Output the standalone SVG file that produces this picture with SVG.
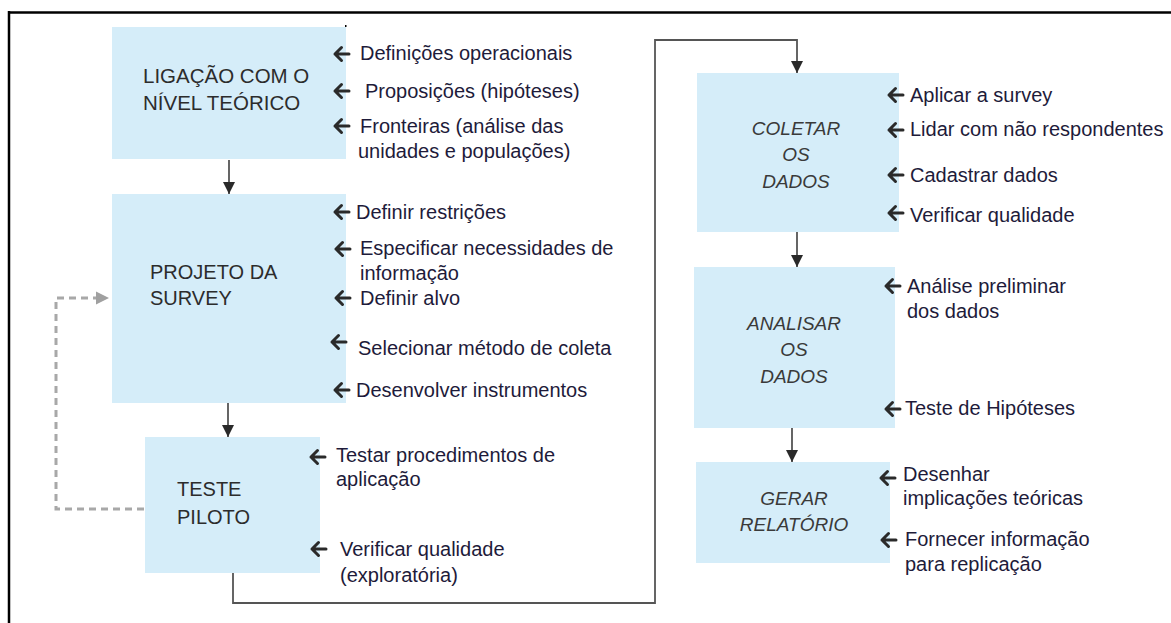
<svg xmlns="http://www.w3.org/2000/svg" xmlns:xlink="http://www.w3.org/1999/xlink" width="1171" height="623" viewBox="0 0 1171 623">
<style>
.box{fill:#D5EDF9}
.t{font-family:"Liberation Sans",Arial,sans-serif;font-size:20px;fill:#2c2c2c}
.it{font-family:"Liberation Sans",Arial,sans-serif;font-size:19px;font-style:italic;fill:#3a3a3a;text-anchor:middle}
.lb{font-family:"Liberation Sans",Arial,sans-serif;font-size:20px;fill:#1e1b3a}
.la{fill:none;stroke:#2a2a2a;stroke-width:3;stroke-linecap:round;stroke-linejoin:round}
.con{fill:none;stroke:#555;stroke-width:1.8}
.dash{fill:none;stroke:#a8a8a8;stroke-width:3;stroke-dasharray:7 5}
</style>
<defs>
<marker id="ah" markerUnits="userSpaceOnUse" markerWidth="12" markerHeight="12" viewBox="0 0 10 10" refX="10" refY="5" orient="auto">
<path d="M0,0 L10,5 L0,10 z" fill="#2a2a2a"/>
</marker>
<path id="la" class="la" d="M16,0 H2 M8.5,-6.5 L2,0 L8.5,6.5"/>
</defs>
<rect width="1171" height="623" fill="#fff"/>
<g id="frame">
<line x1="8" y1="12.5" x2="1171" y2="12.5" stroke="#000" stroke-width="2.5"/>
<line x1="9" y1="11" x2="9" y2="623" stroke="#000" stroke-width="2.5"/>
</g>
<g id="connectors">
<line class="con" x1="229" y1="160" x2="229" y2="194" marker-end="url(#ah)"/>
<line class="con" x1="228" y1="403" x2="228" y2="437" marker-end="url(#ah)"/>
<path class="con" d="M233,573 V603 H655 V40 H797 V73" marker-end="url(#ah)"/>
<line class="con" x1="797" y1="232" x2="797" y2="267" marker-end="url(#ah)"/>
<line class="con" x1="792" y1="428" x2="792" y2="462" marker-end="url(#ah)"/>
<path class="dash" d="M144,509 H56 V298 H98"/>
<path d="M96,291.5 L109,298 L96,304.5 z" fill="#a0a0a0"/>
</g>
<g id="ligacao">
<rect class="box" x="112" y="27" width="234" height="132"/>
<rect x="345" y="25" width="1.5" height="2" fill="#000"/>
<text class="t" x="143" y="83" style="font-size:20.5px">LIGAÇÃO COM O</text>
<text class="t" x="143" y="110" style="font-size:20.5px">NÍVEL TEÓRICO</text>
<use xlink:href="#la" x="333" y="54"/>
<text class="lb" x="360" y="60">Definições operacionais</text>
<use xlink:href="#la" x="333" y="91"/>
<text class="lb" x="365" y="98">Proposições (hipóteses)</text>
<use xlink:href="#la" x="333" y="126"/>
<text class="lb" x="360" y="133">Fronteiras (análise das</text>
<text class="lb" x="358" y="158">unidades e populações)</text>
</g>
<g id="projeto">
<rect class="box" x="112" y="194" width="234" height="209"/>
<text class="t" x="150" y="279">PROJETO DA</text>
<text class="t" x="150" y="305">SURVEY</text>
<use xlink:href="#la" x="333" y="212"/>
<text class="lb" x="356" y="219">Definir restrições</text>
<use xlink:href="#la" x="334" y="249"/>
<text class="lb" x="360" y="255">Especificar necessidades de</text>
<text class="lb" x="360" y="280">informação</text>
<use xlink:href="#la" x="334" y="298"/>
<text class="lb" x="360" y="305">Definir alvo</text>
<use xlink:href="#la" x="330" y="342"/>
<text class="lb" x="358" y="355">Selecionar método de coleta</text>
<use xlink:href="#la" x="333" y="390"/>
<text class="lb" x="356" y="397">Desenvolver instrumentos</text>
</g>
<g id="teste">
<rect class="box" x="145" y="437" width="175" height="136"/>
<text class="t" x="177" y="496">TESTE</text>
<text class="t" x="177" y="524">PILOTO</text>
<use xlink:href="#la" x="309" y="457"/>
<text class="lb" x="336" y="462">Testar procedimentos de</text>
<text class="lb" x="336" y="486">aplicação</text>
<use xlink:href="#la" x="310" y="549"/>
<text class="lb" x="340" y="556">Verificar qualidade</text>
<text class="lb" x="340" y="582">(exploratória)</text>
</g>
<g id="coletar">
<rect class="box" x="697" y="73" width="202" height="159"/>
<text class="it" x="796" y="135">COLETAR</text>
<text class="it" x="796" y="161">OS</text>
<text class="it" x="796" y="188">DADOS</text>
<use xlink:href="#la" x="887" y="95"/>
<text class="lb" x="910" y="102">Aplicar a survey</text>
<use xlink:href="#la" x="887" y="130"/>
<text class="lb" x="910" y="136">Lidar com não respondentes</text>
<use xlink:href="#la" x="887" y="175"/>
<text class="lb" x="910" y="182">Cadastrar dados</text>
<use xlink:href="#la" x="887" y="213"/>
<text class="lb" x="910" y="222">Verificar qualidade</text>
</g>
<g id="analisar">
<rect class="box" x="694" y="267" width="201" height="161"/>
<text class="it" x="794" y="330">ANALISAR</text>
<text class="it" x="794" y="356">OS</text>
<text class="it" x="794" y="383">DADOS</text>
<use xlink:href="#la" x="884" y="286"/>
<text class="lb" x="907" y="293">Análise preliminar</text>
<text class="lb" x="907" y="318">dos dados</text>
<use xlink:href="#la" x="884" y="409"/>
<text class="lb" x="905" y="415">Teste de Hipóteses</text>
</g>
<g id="gerar">
<rect class="box" x="696" y="462" width="194" height="101"/>
<text class="it" x="794" y="505">GERAR</text>
<text class="it" x="794" y="531">RELATÓRIO</text>
<use xlink:href="#la" x="879" y="478"/>
<text class="lb" x="903" y="481">Desenhar</text>
<text class="lb" x="903" y="505">implicações teóricas</text>
<use xlink:href="#la" x="880" y="540"/>
<text class="lb" x="905" y="546">Fornecer informação</text>
<text class="lb" x="905" y="571">para replicação</text>
</g>
</svg>
